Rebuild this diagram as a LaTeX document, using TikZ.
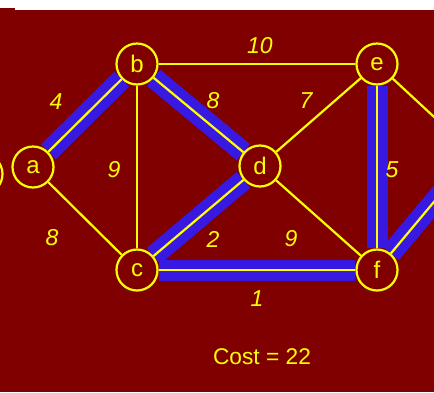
\documentclass[tikz,border=0pt]{standalone}
\usepackage{fontspec}
\setmainfont{Liberation Sans}
\definecolor{maroonbg}{RGB}{128,0,0}
\definecolor{bandblue}{RGB}{55,25,225}
\definecolor{ylw}{RGB}{255,255,0}
\pgfdeclarelayer{back}
\pgfdeclarelayer{bands}
\pgfsetlayers{back,bands,main}
\tikzset{
  vtx/.style={circle, draw=ylw, fill=maroonbg, line width=2.2pt, minimum size=41pt, inner sep=0pt, text=ylw, font=\fontsize{24}{24}\selectfont},
  edg/.style={draw=ylw, line width=2.2pt},
  band/.style={draw=bandblue, line width=21pt},
  wlab/.style={text=ylw, font=\fontsize{23}{23}\selectfont\itshape, inner sep=0pt},
}
\begin{document}
\begin{tikzpicture}[x=1pt,y=-1pt]
\useasboundingbox (0,0) rectangle (434,392);
\begin{pgfonlayer}{back}
  \fill[white] (0,0) rectangle (434,10);
  \fill[maroonbg] (0,10) rectangle (434,392);
  \fill[maroonbg] (0,8) rectangle (15,10);
\end{pgfonlayer}
% nodes
\node[vtx] (a) at (33,167) {a};
\node[vtx] (b) at (137,64) {b};
\node[vtx] (c) at (137,270) {c};
\node[vtx] (d) at (260,166) {d};
\node[vtx] (e) at (377,64) {e};
\node[vtx] (f) at (377,270) {f};
\node[vtx] (g) at (474,154) {};
\node[vtx] (h) at (-18,174) {};
% highlighted bands
\begin{pgfonlayer}{bands}
  \draw[band] (a) -- (b);
  \draw[band] (b) -- (d);
  \draw[band] (d) -- (c);
  \draw[band] (c) -- (f);
  \draw[band] (e) -- (f);
  \draw[band] (f) -- (g);
\end{pgfonlayer}
% edges
\draw[edg] (a) -- (b);
\draw[edg] (b) -- (d);
\draw[edg] (d) -- (c);
\draw[edg] (c) -- (f);
\draw[edg] (e) -- (f);
\draw[edg] (f) -- (g);
\draw[edg] (b) -- (e);
\draw[edg] (b) -- (c);
\draw[edg] (a) -- (c);
\draw[edg] (d) -- (e);
\draw[edg] (d) -- (f);
\draw[edg] (e) -- (g);
% weights
\node[wlab] (w1) at (56,102) {4};
\node[wlab] (w2) at (260,46) {10};
\node[wlab] (w3) at (213,101) {8};
\node[wlab] (w4) at (306,101) {7};
\node[wlab] (w5) at (114,170) {9};
\node[wlab] (w6) at (392,170) {5};
\node[wlab] (w7) at (52,238) {8};
\node[wlab] (w8) at (213,239) {2};
\node[wlab] (w9) at (291,239) {9};
\node[wlab] (w10) at (257,299) {1};
\node[text=ylw, font=\fontsize{22.7}{22.7}\selectfont, inner sep=0pt] (cost) at (262,357) {Cost = 22};
\end{tikzpicture}
\end{document}
